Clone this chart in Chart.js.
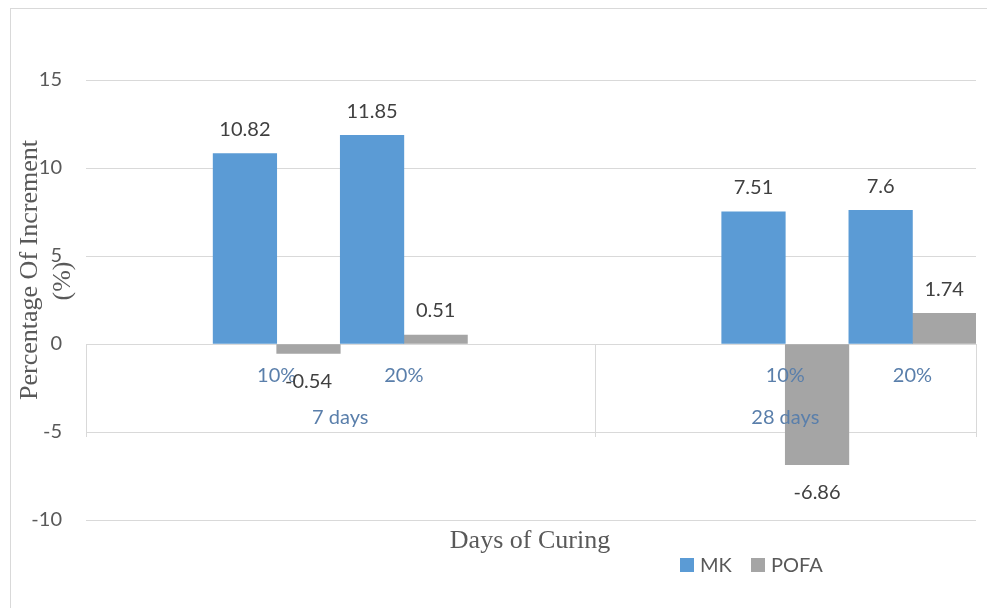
<!DOCTYPE html>
<html>
<head>
<meta charset="utf-8">
<script src="https://cdn.jsdelivr.net/npm/chart.js@4"></script>
<style>
  html, body { margin: 0; padding: 0; background: #fff; }
  #wrap { width: 987px; height: 608px; }
</style>
</head>
<body>
<div id="wrap"><canvas id="increaseChart" width="987" height="608"></canvas></div>
<script>
// categories: empty slots keep the same spacing as the original chart
const categories = ['', '10%', '20%', '', '', '10%', '20%'];
const groups = ['7 days', '28 days'];
const groupSpans = [[0, 3], [4, 6]];
const mkValues = [null, 10.82, 11.85, null, null, 7.51, 7.6];
const pofaValues = [null, -0.54, 0.51, null, null, -6.86, 1.74];
const yTicks = [-10, -5, 0, 5, 10, 15];

const gridGray = '#d9d9d9';
const textGray = '#595959';

const decorations = {
  id: 'decorations',
  beforeDatasetsDraw(chart) {
    const { ctx, scales: { x, y } } = chart;
    const half = (x.getPixelForValue(1) - x.getPixelForValue(0)) / 2;
    const top = y.getPixelForValue(0);
    const bottom = y.getPixelForValue(-5) + 5;
    ctx.save();
    ctx.strokeStyle = gridGray;
    ctx.lineWidth = 1;
    // outer frame
    ctx.strokeRect(10.5, 8.5, 1200, 800);
    // group dividers in the category box
    const edges = groupSpans.map(s => x.getPixelForValue(s[0]) - half);
    edges.push(x.getPixelForValue(groupSpans[groupSpans.length - 1][1]) + half);
    edges.forEach(px => {
      const xx = Math.round(px) + 0.5;
      ctx.beginPath();
      ctx.moveTo(xx, top);
      ctx.lineTo(xx, bottom);
      ctx.stroke();
    });
    ctx.restore();
  },
  afterDatasetsDraw(chart) {
    const { ctx, scales: { x, y } } = chart;
    const zero = y.getPixelForValue(0);
    ctx.save();
    ctx.textAlign = 'center';
    ctx.textBaseline = 'middle';
    // category labels
    ctx.font = '20px Lato';
    ctx.fillStyle = '#5a7fab';
    categories.forEach((c, i) => {
      if (c) ctx.fillText(c, x.getPixelForValue(i), zero + 32);
    });
    groups.forEach((g, i) => {
      const cx = (x.getPixelForValue(groupSpans[i][0]) + x.getPixelForValue(groupSpans[i][1])) / 2;
      ctx.fillText(g, cx, zero + 74);
    });
    // value labels
    ctx.fillStyle = '#404040';
    chart.data.datasets.forEach((ds, di) => {
      chart.getDatasetMeta(di).data.forEach((bar, i) => {
        const v = ds.data[i];
        if (v === null) return;
        const yy = v >= 0 ? bar.y - 24 : bar.y + 28;
        ctx.fillText(String(v), bar.x, yy);
      });
    });
    // axis titles
    ctx.fillStyle = textGray;
    ctx.font = '26px "Liberation Serif"';
    ctx.fillText('Days of Curing', 530, 541);
    ctx.save();
    ctx.translate(30, 270);
    ctx.rotate(-Math.PI / 2);
    ctx.fillText('Percentage Of Increment', 0, 0);
    ctx.restore();
    ctx.save();
    ctx.translate(63, 281);
    ctx.rotate(-Math.PI / 2);
    ctx.fillText('(%)', 0, 0);
    ctx.restore();
    // legend
    ctx.font = '20px Lato';
    ctx.textAlign = 'left';
    const legendItems = [['MK', 680], ['POFA', 751]];
    legendItems.forEach(([label, lx], i) => {
      ctx.fillStyle = chart.data.datasets[i].backgroundColor;
      ctx.fillRect(lx, 558, 14, 14);
      ctx.fillStyle = textGray;
      ctx.fillText(label, lx + 20, 566);
    });
    ctx.restore();
  }
};

const chart = new Chart(document.getElementById('increaseChart').getContext('2d'), {
  type: 'bar',
  data: {
    labels: categories,
    datasets: [{
      label: 'MK',
      data: mkValues,
      backgroundColor: '#5b9bd5',
      borderWidth: 0,
      barPercentage: 1,
      categoryPercentage: 1
    }, {
      label: 'POFA',
      data: pofaValues,
      backgroundColor: '#a5a5a5',
      borderWidth: 0,
      barPercentage: 1,
      categoryPercentage: 1
    }]
  },
  options: {
    responsive: false,
    animation: false,
    layout: { padding: { left: 10, top: 80, right: 11, bottom: 88 } },
    plugins: {
      legend: { display: false },
      tooltip: { enabled: false }
    },
    scales: {
      x: { display: false },
      y: {
        min: yTicks[0],
        max: yTicks[yTicks.length - 1],
        afterBuildTicks: (s) => { s.ticks = yTicks.map(v => ({ value: v })); },
        afterFit: (s) => { s.width = 76; },
        border: { display: false },
        grid: { color: gridGray, drawTicks: false, lineWidth: 1 },
        ticks: {
          padding: 24,
          color: textGray,
          font: { family: 'Lato', size: 20 }
        }
      }
    }
  },
  plugins: [decorations]
});
</script>
</body>
</html>
